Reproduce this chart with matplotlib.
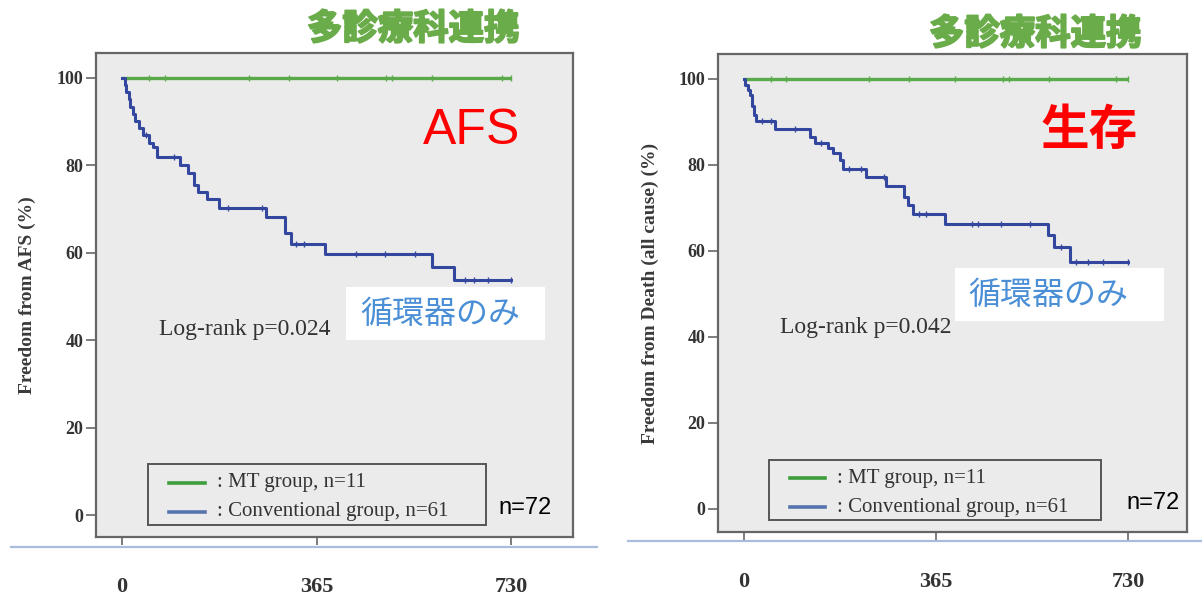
import numpy as np
import matplotlib
matplotlib.use("Agg")
import matplotlib.pyplot as plt
from matplotlib.patches import Rectangle
from matplotlib.lines import Line2D
import matplotlib.patheffects as pe

# ---------------- data ----------------
x_ticks = [0, 365, 730]
y_ticks = [0, 20, 40, 60, 80, 100]

# MT group (no events) – censor times
mt_censor_afs = [51, 80, 238, 313, 403, 496, 507, 582, 712, 730]
mt_censor_death = [51, 80, 237, 314, 401, 492, 503, 580, 707, 730]

# Conventional group, AFS
afs_t = [0, 5, 8, 12, 15, 20, 25, 32, 40, 50, 58, 65, 109, 123, 134, 143, 160, 182, 270, 305, 316, 380, 582, 622, 730]
afs_s = [100, 98.4, 96.7, 95.1, 93.4, 91.8, 90.2, 88.5, 86.9, 85.2, 84.3, 82.0, 80.0, 78.2, 75.5, 74.0, 72.3, 70.2, 68.3, 64.5, 62.0, 59.7, 56.8, 53.7, 53.7]
afs_censor = [45, 98, 198, 262, 327, 341, 439, 494, 549, 643, 661, 687, 730]

# Conventional group, Death (all cause)
dth_t = [0, 3, 8, 11, 15, 19, 24, 59, 125, 135, 160, 170, 183, 188, 232, 270, 305, 312, 321, 383, 578, 590, 620, 730]
dth_s = [100, 98.6, 97.4, 96.3, 93.6, 91.6, 90.2, 88.3, 86.6, 85.0, 84.0, 82.7, 81.1, 79.1, 77.1, 75.1, 72.5, 70.8, 68.7, 66.2, 63.7, 60.9, 57.4, 57.4]
dth_censor = [35, 51, 98, 146, 200, 222, 266, 332, 347, 434, 445, 489, 544, 602, 631, 653, 682, 730]

title_text = "多診療科連携"
legend_labels = [": MT group, n=11", ": Conventional group, n=61"]

# ---------------- style ----------------
SERIF = ["Liberation Serif", "DejaVu Serif"]
SANS = ["Liberation Sans", "DejaVu Sans"]
CJK = ["Noto Sans CJK JP", "DejaVu Sans"]
GREEN = "#5aaa4c"
BLUE = "#33479e"
LEG_GREEN = "#3e9e3e"
LEG_BLUE = "#5574ad"
TXT = "#333333"
BG = "#ebebeb"
SPINE = "#666666"

fig = plt.figure(figsize=(12.02, 5.97), dpi=100)
W, H = 1202, 597


def fx(px):
    return px / W


def fy(py):
    return 1 - py / H


def step_value(t, s, x):
    idx = np.searchsorted(np.asarray(t), x, side="right") - 1
    return np.asarray(s)[idx]


def panel(box, xlim, ylim, t, s, cens, mt_cens, ylabel, logrank, bigtext, big_kw):
    l, top, r, bot = box
    ax = fig.add_axes([fx(l), fy(bot), fx(r) - fx(l), fy(top) - fy(bot)])
    ax.set_facecolor(BG)
    ax.set_xlim(*xlim)
    ax.set_ylim(*ylim)
    for sp in ax.spines.values():
        sp.set_color(SPINE)
        sp.set_linewidth(1.6)

    # MT group
    ax.plot([0, 730], [100, 100], color=GREEN, lw=2.4, solid_capstyle="butt", zorder=3)
    ax.plot(mt_cens, [100] * len(mt_cens), ls="none", marker="|", ms=5, mew=1.0, color=GREEN, zorder=3)
    # Conventional group
    ax.step(t, s, where="post", color=BLUE, lw=2.2, zorder=4)
    cy = step_value(t, s, cens)
    ax.plot(cens, cy, ls="none", marker="|", ms=5, mew=1.0, color=BLUE, zorder=4)

    ax.set_xticks(x_ticks)
    ax.set_xticklabels([str(v) for v in x_ticks], fontfamily=SERIF, fontweight="bold", fontsize=16, color=TXT)
    ax.set_yticks(y_ticks)
    ax.set_yticklabels([str(v) for v in y_ticks], fontfamily=SERIF, fontweight="bold", fontsize=13, color=TXT)
    ax.tick_params(axis="x", length=6, width=1.2, color=SPINE, pad=23)
    ax.tick_params(axis="y", length=7, width=1.2, color=SPINE, pad=2)

    ax.set_ylabel(ylabel, fontfamily=SERIF, fontweight="bold", fontsize=14, color="#3a3a3a")
    ax.yaxis.set_label_coords(-0.126, 0.5)

    ax.text(0.132, 0.428, logrank, transform=ax.transAxes, fontfamily=SERIF, fontsize=17,
            color=TXT, va="center", ha="left")

    # legend box (drawn in axes coordinates)
    lx0, ly0, lx1, ly1 = 0.109, 0.025, 0.817, 0.151
    ax.add_patch(Rectangle((lx0, ly0), lx1 - lx0, ly1 - ly0, transform=ax.transAxes,
                           facecolor="none", edgecolor="#555555", lw=1.4, zorder=5))
    for yy, col, lab in [(0.112, LEG_GREEN, legend_labels[0]), (0.052, LEG_BLUE, legend_labels[1])]:
        ax.add_line(Line2D([0.153, 0.228], [yy, yy], transform=ax.transAxes, color=col, lw=2.6, zorder=5))
        ax.text(0.2537, yy, lab, transform=ax.transAxes, fontfamily=SERIF, fontsize=15,
                color=TXT, va="center", ha="left", zorder=5)

    # n=72
    ax.text(*big_kw["n_pos"], "n=72", transform=ax.transAxes, fontfamily=SANS, fontsize=17,
            color="black", va="center", ha="left", zorder=6)

    # big red label
    ax.text(*big_kw["pos"], bigtext, transform=ax.transAxes, color="#ff0000",
            fontsize=big_kw["size"], fontfamily=big_kw["family"], fontweight=big_kw["weight"],
            va="center", ha="left", zorder=6)
    return ax


ax1 = panel((96, 53, 573, 537), (-49, 846), (-5.0, 105.7), afs_t, afs_s, afs_censor, mt_censor_afs,
            "Freedom from AFS (%)", "Log-rank p=0.024", "AFS",
            dict(pos=(0.686, 0.839), size=36, family=SANS, weight="normal", n_pos=(0.843, 0.060)))
ax2 = panel((718, 54, 1187, 532), (-49, 842), (-5.35, 105.8), dth_t, dth_s, dth_censor, mt_censor_death,
            "Freedom from Death (all cause) (%)", "Log-rank p=0.042", "生存",
            dict(pos=(0.688, 0.839), size=35, family=CJK, weight="bold", n_pos=(0.870, 0.061)))

# white boxes with blue note text (figure pixel placement)
for (x0, y0, x1, y1, tx, ty) in [(346, 287, 545, 340, 360, 314), (955, 268, 1164, 321, 968, 295)]:
    fig.patches.append(Rectangle((fx(x0), fy(y1)), fx(x1) - fx(x0), fy(y0) - fy(y1),
                                 transform=fig.transFigure, facecolor="white", edgecolor="none", zorder=10))
    fig.text(fx(tx), fy(ty), "循環器のみ", fontfamily=CJK, fontsize=23, color="#4a8fd6",
             va="center", ha="left", zorder=11)

# green titles (heavy look)
for (tx, ty) in [(307, 29), (929, 34)]:
    fig.text(fx(tx), fy(ty), title_text, fontfamily=CJK, fontweight="bold", fontsize=25.5,
             color="#6aac4a", va="center", ha="left",
             path_effects=[pe.withStroke(linewidth=1.4, foreground="#6aac4a")])

# light blue rules under each panel
fig.add_artist(Line2D([fx(11), fx(597)], [fy(547), fy(547)], transform=fig.transFigure, color="#a9bddf", lw=1.6))
fig.add_artist(Line2D([fx(628), fx(1202)], [fy(541), fy(541)], transform=fig.transFigure, color="#a9bddf", lw=1.6))

fig.savefig("out.png", dpi=100, facecolor="white")
